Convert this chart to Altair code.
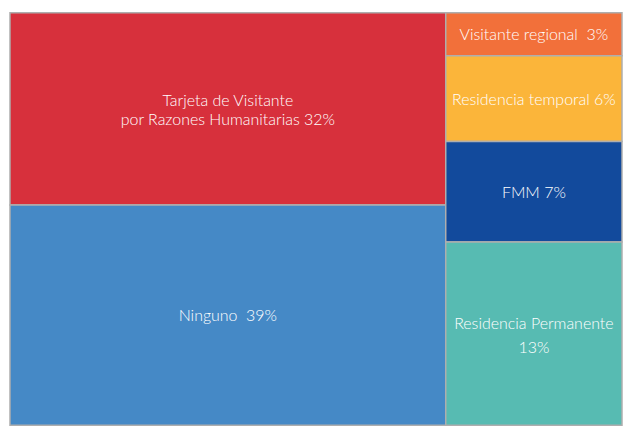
import altair as alt
import pandas as pd

# Categories, shown percentages and measured area shares
categories = [
    "Tarjeta de Visitante por Razones Humanitarias",
    "Ninguno",
    "Visitante regional",
    "Residencia temporal",
    "FMM",
    "Residencia Permanente",
]
label_texts = [
    "Tarjeta de Visitante\npor Razones Humanitarias 32%",
    "Ninguno\u00a0 39%",
    "Visitante regional\u00a0 3%",
    "Residencia temporal 6%",
    "FMM 7%",
    "Residencia Permanente\n13%",
]
percent_shown = [32, 39, 3, 6, 7, 13]
area_shares = [33.2, 38.0, 3.0, 6.0, 7.0, 12.8]
column_group = [0, 0, 1, 1, 1, 1]
colors = ["#D7303C", "#4589C6", "#F2703A", "#FBB53A", "#124A9C", "#57BBB2"]

df = pd.DataFrame({
    "cat": categories,
    "label": label_texts,
    "pct": percent_shown,
    "area": area_shares,
    "col": column_group,
})

# Slice-and-dice treemap layout computed from the values
total = df["area"].sum()
col_tot = df.groupby("col")["area"].sum()
x_start = col_tot.cumsum() - col_tot
df["x0"] = df["col"].map(x_start)
df["x1"] = df["x0"] + df["col"].map(col_tot)
df["frac"] = df["area"] / df["col"].map(col_tot)
df["y1"] = df.groupby("col")["frac"].cumsum()
df["y0"] = df["y1"] - df["frac"]
df["xc"] = (df["x0"] + df["x1"]) / 2
df["yc"] = (df["y0"] + df["y1"]) / 2

xs = alt.Scale(domain=[0, total], nice=False, zero=False)
ys = alt.Scale(domain=[0, 1], nice=False, zero=False, reverse=True)

base = alt.Chart(df)

rects = base.mark_rect(stroke="#AEAEAE", strokeWidth=1.5).encode(
    x=alt.X("x0:Q", scale=xs, axis=None),
    x2="x1:Q",
    y=alt.Y("y0:Q", scale=ys, axis=None),
    y2="y1:Q",
    color=alt.Color("cat:N", scale=alt.Scale(domain=categories, range=colors), legend=None),
)

text_enc = dict(
    x=alt.X("xc:Q", scale=xs, axis=None),
    y=alt.Y("yc:Q", scale=ys, axis=None),
    text="label:N",
)
text_style = dict(color="white", font="Lato", fontSize=16, fontWeight=300, lineBreak="\n",
                  align="center", baseline="middle")

single = base.mark_text(dy=1, **text_style).encode(**text_enc).transform_filter(
    "indexof(datum.label, '\\n') < 0"
)
tarjeta = base.mark_text(lineHeight=19, dy=-7.5, **text_style).encode(**text_enc).transform_filter(
    alt.datum.cat == categories[0]
)
permanente = base.mark_text(lineHeight=24, dy=-10, **text_style).encode(**text_enc).transform_filter(
    alt.datum.cat == categories[5]
)

chart = alt.layer(rects, single, tarjeta, permanente).properties(
    width=614, height=414,
    padding={"left": 1, "top": 3, "right": 0, "bottom": 0},
).configure_view(stroke=None)

chart.save("out.html", embed_options={"renderer": "svg", "actions": False})
